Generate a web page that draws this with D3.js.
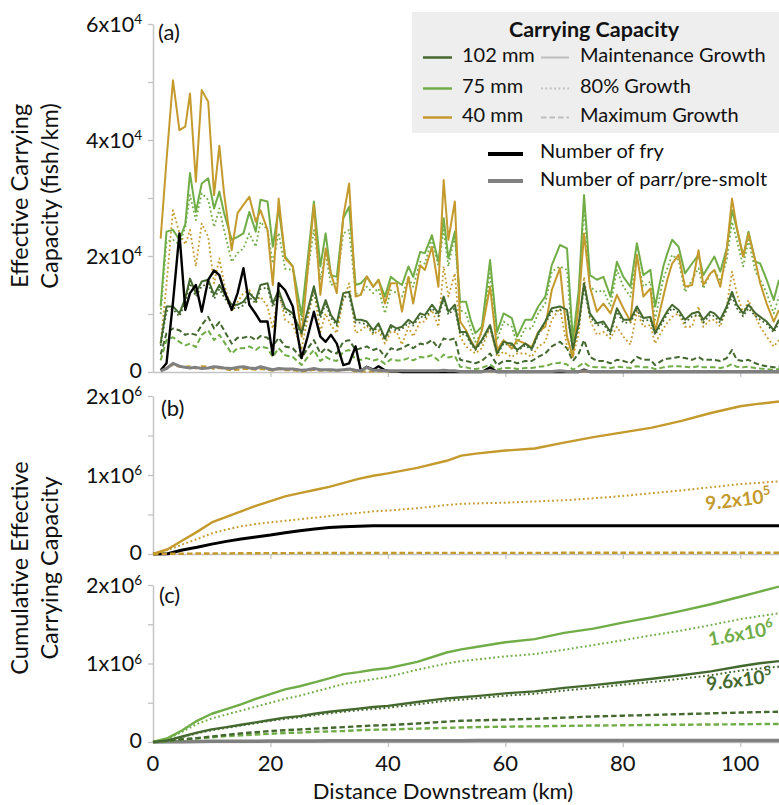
<!DOCTYPE html>
<html>
<head>
<meta charset="utf-8">
<script src="https://cdn.jsdelivr.net/npm/d3@7"></script>
<style>
  body { margin: 0; background: #fff; }
  svg text { font-family: Lato, "Open Sans", sans-serif; fill: #111; }
</style>
</head>
<body>
<svg id="chart" width="779" height="805"></svg>
<script>
// ---------- Per-reach effective carrying capacity (thousand fish / km) ----------
const distanceKm = [
  1.3, 2.3, 3.4, 4.5, 5.5, 6.3, 7.3, 8.3, 9.4, 10.4,
  11.3, 12.1, 13.4, 14.4, 15.4, 16.4, 17.5, 18.3, 19.5, 20.4,
  21.4, 22.5, 23.8, 25.3, 26.3, 27.4, 28.5, 29.4, 30.3, 31.3,
  32.4, 33.4, 34.5, 35.4, 36.4, 37.5, 38.4, 39.5, 40.5, 41.5,
  42.4, 43.5, 44.3, 45.5, 46.3, 47.5, 48.6, 49.5, 50.3, 51.4,
  52.3, 53.3, 54.1, 54.9, 56.0, 57.4, 58.6, 59.7, 60.4, 61.1,
  62.0, 63.4, 64.5, 65.6, 66.8, 67.9, 69.3, 70.5, 71.5, 72.5,
  73.4, 74.4, 75.6, 76.7, 77.9, 79.0, 80.1, 81.3, 82.4, 83.5,
  84.7, 85.5, 86.9, 87.6, 88.4, 89.5, 90.6, 91.8, 92.9, 93.7,
  94.9, 95.6, 96.6, 97.7, 98.6, 99.4, 100.5, 101.4, 102.6, 103.4,
  104.5, 105.7, 106.6
];

// 40 mm fish
const gold40Maint = [
  23.0, 36.5, 50.3, 41.7, 42.3, 48.0, 32.8, 48.6, 46.6, 30.5,
  39.0, 30.8, 21.0, 27.4, 28.8, 30.2, 25.9, 27.9, 24.5, 15.0,
  29.9, 19.6, 18.2, 6.1, 17.0, 28.8, 13.3, 21.3, 17.0, 13.6,
  26.8, 32.5, 13.0, 13.3, 16.5, 14.7, 15.9, 11.8, 15.3, 15.3,
  10.4, 16.4, 11.8, 18.4, 17.6, 21.6, 14.7, 33.1, 22.8, 29.4,
  8.7, 7.2, 5.5, 4.0, 7.2, 14.7, 3.8, 5.5, 4.8, 4.0,
  5.5, 4.9, 4.3, 6.9, 7.8, 14.1, 17.9, 6.1, 2.6, 11.8,
  23.9, 14.7, 10.4, 11.8, 10.1, 13.3, 11.0, 8.7, 20.2, 13.0,
  14.4, 6.9, 13.0, 16.0, 18.7, 20.2, 14.7, 15.0, 21.0, 15.0,
  17.0, 17.6, 14.7, 21.0, 29.9, 25.0, 19.9, 23.9, 19.0, 15.3,
  11.8, 8.7, 10.7
];
const gold40Growth80 = [
  5.0, 15.0, 27.9, 24.0, 22.0, 24.5, 18.2, 25.6, 23.3, 15.3,
  19.6, 15.3, 10.4, 12.1, 13.6, 14.1, 12.1, 13.0, 11.3, 7.5,
  14.1, 9.0, 8.1, 4.1, 9.0, 14.1, 6.9, 10.1, 8.1, 6.7,
  12.4, 15.3, 6.7, 7.2, 8.0, 6.4, 7.2, 4.9, 6.9, 6.9,
  4.7, 7.8, 6.1, 8.7, 8.7, 10.7, 7.8, 18.2, 13.0, 17.0,
  6.1, 4.4, 3.8, 3.2, 4.1, 7.8, 2.6, 3.5, 3.0, 2.6,
  3.2, 3.2, 2.6, 4.4, 5.2, 9.0, 11.0, 4.4, 2.6, 6.7,
  16.4, 9.0, 6.4, 6.9, 5.8, 7.8, 6.1, 4.7, 10.4, 7.8,
  8.1, 4.9, 7.5, 8.5, 9.5, 10.1, 7.8, 7.8, 11.3, 7.8,
  9.0, 9.0, 7.8, 11.3, 17.3, 13.6, 10.1, 12.4, 9.5, 7.8,
  6.1, 4.4, 5.5
];
const gold40MaxGrowth = [
  0.3, 0.8, 1.2, 0.9, 0.9, 1.0, 0.6, 1.0, 0.9, 0.5,
  0.7, 0.5, 0.3, 0.4, 0.5, 0.5, 0.4, 0.5, 0.4, 0.2,
  0.5, 0.3, 0.3, 0.1, 0.2, 0.4, 0.2, 0.3, 0.2, 0.2,
  0.3, 0.4, 0.1, 0.1, 0.1, 0.1, 0.1, 0.1, 0.1, 0.1,
  0.1, 0.1, 0.1, 0.1, 0.1, 0.1, 0.1, 0.2, 0.1, 0.1,
  0.0, 0.0, 0.0, 0.0, 0.0, 0.1, 0.0, 0.0, 0.0, 0.0,
  0.0, 0.0, 0.0, 0.0, 0.0, 0.1, 0.1, 0.0, 0.0, 0.0,
  0.1, 0.0, 0.0, 0.0, 0.0, 0.0, 0.0, 0.0, 0.1, 0.0,
  0.0, 0.0, 0.0, 0.0, 0.1, 0.1, 0.0, 0.0, 0.1, 0.0,
  0.0, 0.0, 0.0, 0.1, 0.1, 0.1, 0.0, 0.1, 0.0, 0.0,
  0.0, 0.0, 0.0
];

// 75 mm fish
const green75Maint = [
  11.3, 24.2, 24.5, 22.8, 25.5, 34.3, 27.6, 32.5, 33.4, 28.2,
  31.1, 27.4, 22.8, 23.3, 23.9, 27.6, 24.2, 29.7, 29.4, 21.6,
  28.2, 19.9, 18.2, 9.8, 19.0, 29.4, 18.2, 23.9, 16.7, 16.4,
  26.5, 28.5, 15.0, 15.3, 16.4, 14.7, 15.9, 13.0, 16.4, 15.6,
  15.0, 18.2, 16.4, 20.7, 20.5, 23.6, 19.0, 26.5, 19.6, 24.2,
  12.1, 12.1, 9.0, 6.7, 7.8, 19.3, 6.9, 10.1, 9.7, 9.3,
  6.1, 9.0, 9.0, 11.3, 13.0, 18.4, 21.9, 21.3, 5.5, 14.1,
  30.5, 16.7, 15.9, 16.4, 13.0, 19.0, 16.4, 14.7, 22.2, 16.7,
  17.6, 11.3, 18.2, 20.5, 22.8, 21.6, 17.0, 18.7, 20.2, 16.7,
  18.7, 19.9, 17.3, 21.3, 27.9, 24.8, 19.9, 24.2, 19.0, 18.7,
  15.9, 12.4, 15.9
];
const green75Growth80 = [
  10.0, 22.5, 22.8, 22.0, 25.0, 30.5, 26.2, 30.8, 29.7, 25.0,
  28.2, 24.5, 19.0, 20.5, 21.3, 23.9, 21.6, 25.9, 24.5, 18.7,
  24.0, 17.8, 17.6, 9.0, 17.0, 24.5, 15.9, 20.5, 15.0, 15.3,
  23.9, 24.5, 13.5, 13.5, 14.7, 13.6, 14.4, 10.1, 14.1, 13.6,
  13.0, 16.4, 14.7, 19.0, 18.7, 23.0, 18.2, 24.5, 18.2, 23.6,
  10.7, 10.1, 7.5, 5.2, 6.7, 17.0, 5.5, 8.7, 8.2, 7.8,
  4.9, 7.5, 7.5, 10.1, 11.8, 17.3, 18.2, 17.6, 3.8, 12.4,
  28.8, 14.7, 13.8, 14.1, 11.3, 17.6, 14.7, 13.0, 19.9, 14.7,
  15.6, 9.0, 16.1, 18.0, 20.2, 19.3, 13.8, 15.9, 17.9, 14.4,
  17.0, 17.6, 15.6, 19.3, 25.9, 22.8, 18.2, 22.8, 17.3, 15.9,
  13.6, 10.1, 13.0
];
const green75MaxGrowth = [
  2.0, 5.5, 6.0, 5.2, 4.6, 4.9, 4.3, 6.4, 7.2, 5.5,
  6.4, 5.2, 3.2, 4.1, 4.1, 4.4, 3.8, 4.4, 4.1, 2.6,
  4.1, 2.9, 2.6, 1.2, 2.5, 3.8, 1.9, 2.6, 2.1, 1.9,
  3.5, 3.8, 2.1, 2.1, 2.4, 2.0, 2.2, 1.4, 2.2, 2.0,
  2.0, 2.4, 2.0, 2.6, 2.5, 2.9, 2.0, 3.0, 2.5, 2.8,
  0.9, 0.8, 0.6, 0.5, 0.7, 1.3, 0.4, 0.7, 0.7, 0.7,
  0.5, 0.7, 0.7, 0.9, 1.0, 1.4, 1.6, 1.3, 0.4, 1.0,
  1.6, 0.9, 0.8, 0.8, 0.7, 0.9, 0.8, 0.7, 1.0, 0.8,
  0.8, 0.5, 0.8, 0.9, 1.0, 1.0, 0.9, 0.8, 1.0, 0.8,
  0.8, 0.8, 0.7, 0.9, 1.4, 0.9, 0.8, 0.9, 0.7, 0.6,
  0.5, 0.4, 0.5
];

// 102 mm fish
const green102Maint = [
  4.9, 11.3, 11.3, 10.1, 12.7, 16.1, 13.6, 15.6, 15.9, 13.3,
  15.0, 13.6, 11.6, 11.6, 12.1, 13.6, 12.4, 15.0, 15.3, 11.8,
  14.1, 11.0, 10.1, 6.7, 10.5, 14.8, 9.8, 12.4, 9.8, 8.4,
  13.6, 13.8, 9.0, 9.0, 8.7, 7.2, 8.4, 5.8, 8.1, 7.5,
  7.8, 9.0, 8.4, 10.1, 9.8, 11.6, 10.1, 13.0, 10.4, 11.6,
  6.9, 6.9, 5.2, 4.0, 5.5, 8.1, 3.2, 5.2, 5.0, 4.9,
  3.8, 4.9, 4.0, 6.7, 8.7, 11.0, 11.3, 10.7, 4.0, 8.4,
  15.3, 10.1, 8.4, 8.7, 6.9, 11.0, 9.0, 9.0, 11.3, 9.3,
  9.5, 6.7, 9.3, 10.5, 11.6, 10.7, 9.0, 10.1, 10.4, 9.0,
  10.4, 10.1, 9.0, 11.3, 13.8, 11.6, 10.1, 11.6, 10.1, 9.5,
  8.7, 7.2, 9.0
];
const green102Growth80 = [
  4.5, 10.5, 10.8, 9.6, 12.0, 15.3, 13.0, 14.8, 15.2, 12.6,
  14.3, 12.9, 11.0, 11.0, 11.5, 12.9, 11.8, 14.3, 14.6, 11.2,
  13.4, 10.4, 9.6, 6.3, 10.0, 14.1, 9.3, 11.8, 9.3, 8.0,
  12.9, 13.1, 8.5, 8.5, 8.2, 6.8, 8.0, 5.5, 7.7, 7.1,
  7.4, 8.5, 8.0, 9.6, 9.3, 11.0, 9.6, 12.4, 9.9, 11.0,
  6.5, 6.5, 4.9, 3.8, 5.2, 7.7, 3.0, 4.9, 4.7, 4.6,
  3.6, 4.6, 3.8, 6.4, 8.3, 10.4, 10.7, 10.2, 3.8, 8.0,
  14.5, 9.6, 8.0, 8.3, 6.5, 10.4, 8.5, 8.5, 10.7, 8.8,
  9.0, 6.4, 8.8, 10.0, 11.0, 10.2, 8.5, 9.6, 9.9, 8.5,
  9.9, 9.6, 8.5, 10.7, 13.1, 11.0, 9.6, 11.0, 9.6, 9.0,
  8.3, 6.8, 8.5
];
const green102MaxGrowth = [
  3.0, 6.7, 7.5, 7.2, 6.4, 6.7, 6.4, 8.1, 9.5, 7.5,
  8.6, 7.2, 4.9, 5.9, 5.9, 6.2, 5.5, 6.2, 5.9, 4.4,
  5.9, 4.4, 4.1, 2.4, 4.0, 5.5, 3.2, 4.1, 3.5, 3.2,
  5.2, 5.5, 3.8, 4.1, 4.4, 3.8, 4.1, 2.6, 4.1, 3.8,
  4.1, 4.7, 4.1, 4.9, 4.7, 5.5, 4.1, 5.8, 5.5, 5.8,
  2.1, 1.9, 1.7, 1.5, 1.9, 3.2, 1.2, 1.9, 1.9, 1.9,
  1.5, 1.9, 1.9, 2.6, 3.2, 4.4, 5.2, 4.1, 1.9, 3.2,
  5.5, 2.6, 1.9, 1.9, 1.5, 2.1, 1.9, 1.5, 2.6, 2.1,
  2.1, 1.2, 2.1, 2.3, 2.4, 2.6, 2.4, 2.1, 2.6, 2.1,
  2.1, 2.1, 1.9, 2.4, 3.8, 2.1, 1.9, 2.1, 1.5, 1.2,
  1.0, 0.8, 0.9
];

// Observed fish
const fryCount = [
  0.3, 1.5, 12.0, 23.9, 10.7, 13.6, 15.0, 10.4, 15.9, 17.5,
  16.7, 14.1, 10.7, 13.6, 17.9, 11.6, 10.0, 8.7, 8.7, 2.9,
  15.3, 14.1, 11.3, 2.4, 6.0, 10.4, 6.1, 5.2, 6.4, 4.9,
  1.2, 1.5, 4.4, 0.2, 0.9, 0.4, 1.0, 0.3, 0.1, 0.1,
  0.0, 0.0, 0.0, 0.0, 0.0, 0.0, 0.0, 0.0, 0.0, 0.0,
  0.0, 0.0, 0.0, 0.0, 0.0, 0.8, 0.0, 0.0, 0.0, 0.0,
  0.0, 0.0, 0.0, 0.0, 0.0, 0.0, 0.0, 0.0, 0.0, 0.0,
  0.4, 0.0, 0.0, 0.0, 0.0, 0.0, 0.0, 0.0, 0.0, 0.0,
  0.0, 0.0, 0.0, 0.0, 0.0, 0.0, 0.0, 0.0, 0.0, 0.0,
  0.0, 0.0, 0.0, 0.0, 0.0, 0.0, 0.0, 0.0, 0.0, 0.0,
  0.0, 0.0, 0.0
];
const parrCount = [
  0.2, 0.6, 1.5, 1.0, 0.8, 0.7, 0.8, 0.6, 0.7, 0.9,
  0.8, 0.7, 0.6, 0.8, 0.9, 0.7, 0.6, 0.9, 0.6, 0.4,
  0.6, 0.5, 0.5, 0.3, 0.4, 0.6, 0.4, 0.4, 0.4, 0.3,
  0.4, 0.5, 0.3, 0.2, 0.8, 0.3, 0.3, 0.2, 0.2, 0.2,
  0.2, 0.2, 0.2, 0.2, 0.2, 0.2, 0.2, 0.3, 0.2, 0.2,
  0.1, 0.1, 0.1, 0.1, 0.1, 0.2, 0.1, 0.1, 0.1, 0.1,
  0.1, 0.1, 0.1, 0.1, 0.1, 0.1, 0.2, 0.1, 0.1, 0.1,
  0.2, 0.1, 0.1, 0.1, 0.1, 0.1, 0.1, 0.1, 0.1, 0.1,
  0.1, 0.1, 0.1, 0.1, 0.1, 0.1, 0.1, 0.1, 0.1, 0.1,
  0.1, 0.1, 0.1, 0.1, 0.1, 0.1, 0.1, 0.1, 0.1, 0.1,
  0.1, 0.1, 0.1
];

// ---------- Cumulative carrying capacity (million fish) ----------
const cumKm = [
  0, 2.5, 5, 7.5, 10, 12.5, 15, 17.5, 20, 22.5,
  25, 27.5, 30, 32.5, 35, 37.5, 40, 45, 50, 52.5,
  55, 60, 65, 70, 75, 80, 85, 90, 95, 100,
  103, 106.6
];
const cumGold40Maint = [
  0, 0.06, 0.17, 0.28, 0.40, 0.47, 0.54, 0.61, 0.67, 0.73,
  0.77, 0.81, 0.85, 0.90, 0.95, 0.99, 1.02, 1.09, 1.18, 1.245,
  1.27, 1.31, 1.335, 1.41, 1.48, 1.54, 1.60, 1.685, 1.785, 1.87,
  1.90, 1.93
];
const cumGold40Growth80 = [
  0, 0.05, 0.12, 0.19, 0.26, 0.31, 0.35, 0.38, 0.40, 0.42,
  0.44, 0.46, 0.48, 0.505, 0.52, 0.54, 0.55, 0.58, 0.62, 0.635,
  0.64, 0.65, 0.665, 0.68, 0.705, 0.735, 0.77, 0.805, 0.845, 0.885,
  0.90, 0.92
];
const cumGold40MaxGrowth = [
  0, 0.002, 0.004, 0.006, 0.007, 0.008, 0.009, 0.010, 0.011, 0.011,
  0.012, 0.012, 0.013, 0.013, 0.013, 0.013, 0.013, 0.014, 0.014, 0.014,
  0.014, 0.014, 0.014, 0.015, 0.015, 0.015, 0.015, 0.015, 0.015, 0.015,
  0.015, 0.015
];
const cumFry = [
  0, 0.003, 0.05, 0.085, 0.125, 0.16, 0.19, 0.215, 0.24, 0.27,
  0.295, 0.315, 0.335, 0.345, 0.352, 0.357, 0.358, 0.358, 0.358, 0.358,
  0.358, 0.358, 0.358, 0.358, 0.358, 0.358, 0.358, 0.358, 0.358, 0.358,
  0.358, 0.358
];
const cumGreen75Maint = [
  0, 0.05, 0.15, 0.27, 0.36, 0.42, 0.48, 0.55, 0.61, 0.67,
  0.71, 0.76, 0.81, 0.865, 0.89, 0.92, 0.94, 1.02, 1.14, 1.18,
  1.21, 1.27, 1.31, 1.39, 1.445, 1.52, 1.59, 1.67, 1.755, 1.85,
  1.91, 1.98
];
const cumGreen75Growth80 = [
  0, 0.04, 0.13, 0.23, 0.30, 0.35, 0.40, 0.45, 0.50, 0.55,
  0.59, 0.64, 0.69, 0.74, 0.77, 0.80, 0.83, 0.92, 1.0, 1.03,
  1.05, 1.09, 1.12, 1.175, 1.235, 1.295, 1.36, 1.42, 1.49, 1.565,
  1.60, 1.64
];
const cumGreen75MaxGrowth = [
  0, 0.01, 0.03, 0.045, 0.06, 0.075, 0.085, 0.095, 0.105, 0.115,
  0.12, 0.13, 0.135, 0.14, 0.15, 0.155, 0.16, 0.17, 0.18, 0.185,
  0.19, 0.195, 0.20, 0.205, 0.21, 0.213, 0.217, 0.22, 0.223, 0.226,
  0.228, 0.23
];
const cumGreen102Maint = [
  0, 0.02, 0.07, 0.12, 0.16, 0.19, 0.22, 0.25, 0.28, 0.31,
  0.33, 0.36, 0.385, 0.405, 0.425, 0.445, 0.46, 0.51, 0.555, 0.57,
  0.585, 0.62, 0.645, 0.69, 0.725, 0.765, 0.805, 0.85, 0.90, 0.965,
  1.0, 1.03
];
const cumGreen102Growth80 = [
  0, 0.02, 0.065, 0.11, 0.15, 0.18, 0.21, 0.24, 0.27, 0.295,
  0.315, 0.34, 0.365, 0.385, 0.405, 0.42, 0.435, 0.48, 0.525, 0.54,
  0.555, 0.59, 0.615, 0.655, 0.69, 0.73, 0.765, 0.805, 0.85, 0.91,
  0.935, 0.96
];
const cumGreen102MaxGrowth = [
  0, 0.015, 0.035, 0.05, 0.07, 0.09, 0.11, 0.125, 0.14, 0.15,
  0.16, 0.17, 0.18, 0.19, 0.20, 0.21, 0.215, 0.235, 0.26, 0.27,
  0.275, 0.285, 0.295, 0.31, 0.325, 0.335, 0.345, 0.355, 0.365, 0.375,
  0.38, 0.386
];
const cumParr = [
  0, 0.002, 0.004, 0.006, 0.008, 0.009, 0.010, 0.011, 0.012, 0.013,
  0.013, 0.014, 0.015, 0.015, 0.016, 0.016, 0.016, 0.017, 0.017, 0.017,
  0.018, 0.018, 0.018, 0.018, 0.019, 0.019, 0.019, 0.019, 0.020, 0.020,
  0.020, 0.020
];

// ---------- Axis ticks ----------
const distanceTicks = [0, 20, 40, 60, 80, 100];
const perKmTicks = [0, 10000, 20000, 30000, 40000, 50000, 60000];
const perKmLabelTicks = [0, 20000, 40000, 60000];
const cumTicks = [0, 500000, 1000000, 1500000, 2000000];
const cumLabelTicks = [0, 1000000, 2000000];

const PER_KM_UNIT = 1000;
const CUM_UNIT = 1e6;

// ---------- Styling ----------
const C102 = "#44692f", C75 = "#70ad47", C40 = "#c49a2c";
const FRY = "#000000", PARR = "#808080", AXIS = "#c4c4c4";
const DOT = "1.8 2.6", DASH = "5.5 3";

const svg = d3.select("#chart");
const x = d3.scaleLinear().domain([0, 106.6]).range([153, 779]);
const yA = d3.scaleLinear().domain([0, 60000]).range([372, 24]);
const yB = d3.scaleLinear().domain([0, 2000000]).range([554, 396]);
const yC = d3.scaleLinear().domain([0, 2000000]).range([742, 585]);

// scientific label "m x 10^e" with a raised exponent
function sci(v, digits) {
  if (v === 0) return null;
  const e = Math.floor(Math.log10(v) + 1e-9);
  const m = v / Math.pow(10, e);
  return { m: digits ? m.toFixed(digits) : String(Math.round(m)), e: e };
}
function sciText(sel, v, digits, supSize, supRise) {
  const s = sci(v, digits);
  if (!s) { sel.text("0"); return; }
  sel.append("tspan").text(s.m + "x10");
  sel.append("tspan").attr("dy", -supRise).attr("font-size", supSize).text(s.e);
}

function drawAxes(yScale, ticks, labelTicks) {
  const g = svg.append("g");
  const ya = g.append("g").attr("transform", "translate(153,0)")
    .call(d3.axisLeft(yScale).tickValues(ticks).tickSize(5).tickSizeOuter(0).tickFormat(""));
  const xa = g.append("g").attr("transform", `translate(0,${yScale(0)})`)
    .call(d3.axisBottom(x).tickValues(distanceTicks.filter(d => d > 0)).tickSize(5).tickSizeOuter(0).tickFormat(""));
  [ya, xa].forEach(a => {
    a.select(".domain").attr("stroke", AXIS).attr("stroke-width", 1.5);
    a.selectAll(".tick line").attr("stroke", AXIS).attr("stroke-width", 1.3);
  });
  labelTicks.forEach(v => {
    // the zero label sits a touch higher so it clears the panel below
    const t = g.append("text").attr("x", 142).attr("y", yScale(v) + (v === 0 ? 6 : 7.5))
      .attr("text-anchor", "end").attr("font-size", 21.5);
    sciText(t, v, 0, 13.5, 7.5);
  });
}

function drawSeries(xs, ys, yScale, unit, color, width, dash) {
  const line = d3.line()
    .x((d, i) => x(xs[i]))
    .y(d => yScale(d * unit));
  const p = svg.append("path").datum(ys)
    .attr("d", line)
    .attr("fill", "none")
    .attr("stroke", color)
    .attr("stroke-width", width)
    .attr("stroke-linejoin", "round");
  if (dash) p.attr("stroke-dasharray", dash);
  return p;
}

// ---------- Panel (a) ----------
drawAxes(yA, perKmTicks, perKmLabelTicks);
drawSeries(distanceKm, gold40MaxGrowth, yA, PER_KM_UNIT, C40, 2, DASH);
drawSeries(distanceKm, green75MaxGrowth, yA, PER_KM_UNIT, C75, 2, DASH);
drawSeries(distanceKm, green102MaxGrowth, yA, PER_KM_UNIT, C102, 2, DASH);
drawSeries(distanceKm, gold40Growth80, yA, PER_KM_UNIT, C40, 1.8, DOT);
drawSeries(distanceKm, green75Growth80, yA, PER_KM_UNIT, C75, 1.8, DOT);
drawSeries(distanceKm, green102Growth80, yA, PER_KM_UNIT, C102, 1.8, DOT);
drawSeries(distanceKm, green75Maint, yA, PER_KM_UNIT, C75, 2, null);
drawSeries(distanceKm, gold40Maint, yA, PER_KM_UNIT, C40, 2, null);
drawSeries(distanceKm, green102Maint, yA, PER_KM_UNIT, C102, 2, null);
drawSeries(distanceKm, fryCount, yA, PER_KM_UNIT, FRY, 2.4, null);
drawSeries(distanceKm, parrCount, yA, PER_KM_UNIT, PARR, 3, null);

// ---------- Panel (b) ----------
drawAxes(yB, cumTicks, cumLabelTicks);
drawSeries(cumKm, cumFry, yB, CUM_UNIT, FRY, 3, null);
drawSeries(cumKm, cumGold40MaxGrowth, yB, CUM_UNIT, C40, 2.4, DASH);
drawSeries(cumKm, cumGold40Growth80, yB, CUM_UNIT, C40, 2, DOT);
drawSeries(cumKm, cumGold40Maint, yB, CUM_UNIT, C40, 2.4, null);

// ---------- Panel (c) ----------
drawAxes(yC, cumTicks, cumLabelTicks);
drawSeries(cumKm, cumParr, yC, CUM_UNIT, PARR, 3.5, null);
drawSeries(cumKm, cumGreen75MaxGrowth, yC, CUM_UNIT, C75, 2.4, DASH);
drawSeries(cumKm, cumGreen102MaxGrowth, yC, CUM_UNIT, C102, 2.4, DASH);
drawSeries(cumKm, cumGreen75Growth80, yC, CUM_UNIT, C75, 2, DOT);
drawSeries(cumKm, cumGreen102Growth80, yC, CUM_UNIT, C102, 2, DOT);
drawSeries(cumKm, cumGreen75Maint, yC, CUM_UNIT, C75, 2.4, null);
drawSeries(cumKm, cumGreen102Maint, yC, CUM_UNIT, C102, 2.4, null);

// ---------- End-of-reach totals for the 80% growth scenario ----------
function totalLabel(series, yScale, color, dx, dy, angle) {
  const v = series[series.length - 1] * CUM_UNIT;
  const px = x(cumKm[cumKm.length - 1]) + dx, py = yScale(v) + dy;
  const t = svg.append("text").attr("x", px).attr("y", py)
    .attr("text-anchor", "middle").attr("font-size", 19).attr("font-weight", 700)
    .style("fill", color)
    .attr("transform", `rotate(${angle},${px},${py})`);
  sciText(t, v, 1, 13, 8);
}
totalLabel(cumGold40Growth80, yB, C40, -40, 25, -7);
totalLabel(cumGreen75Growth80, yC, C75, -37, 27, -10);
totalLabel(cumGreen102Growth80, yC, C102, -39, 20, -7);

// ---------- Panel letters ----------
[["(a)", 158, 40], ["(b)", 161, 416], ["(c)", 159, 603]].forEach(([s, px, py]) =>
  svg.append("text").attr("x", px).attr("y", py).attr("font-size", 22).text(s));

// ---------- Axis titles ----------
distanceTicks.forEach(d =>
  svg.append("text").attr("x", x(d)).attr("y", 771).attr("text-anchor", "middle")
    .attr("font-size", 22).text(d));
svg.append("text").attr("x", 443).attr("y", 798.5).attr("text-anchor", "middle")
  .attr("font-size", 22).text("Distance Downstream (km)");

function yTitle(lines, cy) {
  lines.forEach(([s, bx]) =>
    svg.append("text").attr("transform", `translate(${bx},${cy}) rotate(-90)`)
      .attr("text-anchor", "middle").attr("font-size", 23.5).text(s));
}
yTitle([["Effective Carrying", 28], ["Capacity (fish/km)", 58]], 196);
yTitle([["Cumulative Effective", 28], ["Carrying Capacity", 58]], 568);

// ---------- Legend ----------
const lg = svg.append("g");
lg.append("rect").attr("x", 412).attr("y", 12).attr("width", 367).attr("height", 121).attr("fill", "#eeeeee");
lg.append("text").attr("x", 594).attr("y", 37).attr("text-anchor", "middle")
  .attr("font-size", 21.5).attr("font-weight", 700).text("Carrying Capacity");

const sizeItems = [["102 mm", C102], ["75 mm", C75], ["40 mm", C40]];
const growthItems = [["Maintenance Growth", null], ["80% Growth", DOT], ["Maximum Growth", DASH]];
const rowBase = [62, 93, 122];
sizeItems.forEach(([label, color], i) => {
  const by = rowBase[i];
  lg.append("line").attr("x1", 423).attr("x2", 452).attr("y1", by - 4.5).attr("y2", by - 4.5)
    .attr("stroke", color).attr("stroke-width", 2.5);
  lg.append("text").attr("x", 462).attr("y", by).attr("font-size", 20).text(label);
});
growthItems.forEach(([label, dash], i) => {
  const by = rowBase[i];
  const l = lg.append("line").attr("x1", 541).attr("x2", 569).attr("y1", by - 4.5).attr("y2", by - 4.5)
    .attr("stroke", "#bdbdbd").attr("stroke-width", 2);
  if (dash) l.attr("stroke-dasharray", dash);
  lg.append("text").attr("x", 580).attr("y", by).attr("font-size", 20).text(label);
});
[["Number of fry", FRY, 154, 158], ["Number of parr/pre-smolt", PARR, 181, 186]].forEach(([label, color, ly, by]) => {
  lg.append("line").attr("x1", 488).attr("x2", 523).attr("y1", ly).attr("y2", ly)
    .attr("stroke", color).attr("stroke-width", 4);
  lg.append("text").attr("x", 540).attr("y", by).attr("font-size", 20).text(label);
});
</script>
</body>
</html>
